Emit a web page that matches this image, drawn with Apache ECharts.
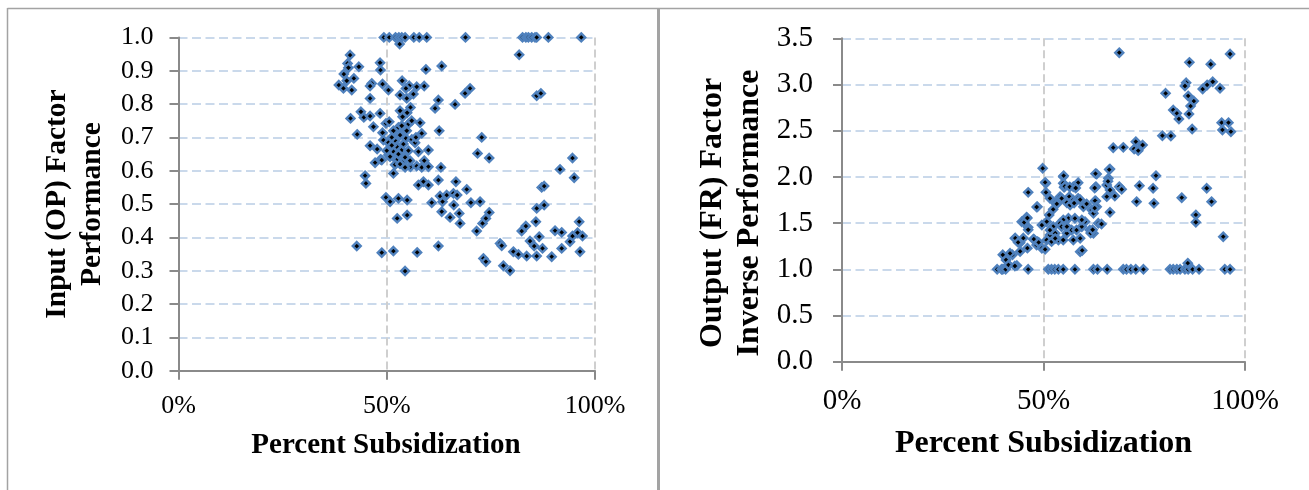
<!DOCTYPE html>
<html>
<head>
<meta charset="utf-8">
<script src="https://cdn.jsdelivr.net/npm/echarts@6/dist/echarts.min.js"></script>
<style>
  html, body { margin: 0; padding: 0; background: #fff; }
  #chart { width: 1309px; height: 490px; }
</style>
</head>
<body>
<div id="chart"></div>
<script>
// Input (OP) factor performance vs. percent subsidization: [subsidization, performance]
const inputPoints = [
  [0.493,1],[0.506,1],[0.521,1],[0.529,1],[0.536,1],[0.544,1],[0.565,1],[0.578,1],[0.596,1],
  [0.689,1],[0.826,1],[0.834,1],[0.840,1],[0.848,1],[0.856,1],[0.860,1],[0.888,1],[0.967,1],
  [0.531,0.98],
  [0.818,0.948],[0.594,0.904],[0.632,0.914],
  [0.412,0.947],[0.406,0.922],[0.408,0.909],[0.433,0.912],[0.397,0.890],[0.404,0.870],[0.421,0.877],
  [0.385,0.857],[0.396,0.847],[0.416,0.842],
  [0.484,0.924],[0.485,0.902],[0.464,0.862],[0.460,0.854],[0.490,0.860],[0.460,0.817],
  [0.504,0.842],[0.537,0.870],[0.554,0.855],[0.572,0.852],[0.590,0.854],[0.546,0.847],
  [0.532,0.827],[0.548,0.817],[0.564,0.830],
  [0.688,0.832],[0.700,0.847],[0.860,0.825],[0.870,0.832],
  [0.624,0.812],[0.616,0.787],[0.664,0.799],
  [0.413,0.757],[0.438,0.777],[0.445,0.760],[0.460,0.764],[0.484,0.772],[0.468,0.732],[0.429,0.709],
  [0.532,0.780],[0.538,0.762],[0.549,0.774],[0.557,0.790],
  [0.498,0.742],[0.506,0.747],[0.490,0.714],[0.516,0.720],[0.528,0.730],[0.552,0.740],[0.580,0.744],
  [0.584,0.712],[0.626,0.720],[0.728,0.700],
  [0.718,0.652],[0.746,0.638],[0.946,0.638],[0.916,0.604],[0.950,0.579],
  [0.460,0.675],[0.477,0.665],[0.472,0.624],[0.485,0.634],[0.504,0.647],
  [0.492,0.692],[0.504,0.684],[0.520,0.690],[0.532,0.707],[0.546,0.697],[0.560,0.694],[0.568,0.684],
  [0.524,0.672],[0.516,0.657],[0.536,0.662],[0.508,0.642],[0.524,0.632],[0.540,0.627],[0.557,0.612],
  [0.572,0.614],[0.584,0.610],[0.576,0.657],[0.600,0.662],[0.516,0.592],[0.630,0.610],[0.488,0.632],
  [0.448,0.585],[0.450,0.562],
  [0.512,0.700],[0.528,0.650],[0.540,0.680],[0.552,0.660],[0.520,0.618],[0.544,0.640],[0.532,0.620],
  [0.548,0.720],[0.560,0.750],[0.500,0.660],[0.536,0.735],[0.512,0.676],[0.556,0.630],[0.570,0.700],
  [0.590,0.630],[0.600,0.612],[0.544,0.610],
  [0.576,0.557],[0.588,0.567],[0.600,0.557],[0.624,0.572],[0.666,0.567],
  [0.498,0.520],[0.508,0.507],[0.528,0.517],[0.549,0.512],
  [0.608,0.504],[0.628,0.524],[0.634,0.507],[0.644,0.527],[0.660,0.532],[0.669,0.527],[0.661,0.497],[0.692,0.544],
  [0.632,0.477],[0.652,0.460],[0.674,0.472],[0.676,0.442],[0.702,0.504],[0.724,0.507],
  [0.525,0.457],[0.549,0.467],
  [0.716,0.419],[0.730,0.442],[0.738,0.457],[0.746,0.475],
  [0.872,0.550],[0.878,0.554],[0.860,0.487],[0.878,0.497],[0.858,0.447],[0.824,0.419],[0.834,0.434],
  [0.428,0.374],[0.488,0.354],[0.516,0.359],[0.573,0.355],[0.624,0.374],[0.544,0.299],
  [0.732,0.337],[0.738,0.327],[0.772,0.382],[0.776,0.375],[0.780,0.315],[0.796,0.300],
  [0.804,0.357],[0.816,0.349],[0.836,0.344],[0.844,0.389],[0.854,0.374],[0.860,0.344],[0.866,0.402],
  [0.874,0.367],[0.896,0.342],[0.920,0.367],[0.904,0.420],[0.920,0.415],[0.940,0.387],[0.946,0.404],
  [0.958,0.414],[0.970,0.404],[0.964,0.357],[0.962,0.447]
];

// Output (FR) factor inverse performance vs. percent subsidization: [subsidization, inverse performance]
const outputPoints = [
  [0.385,1],[0.396,1],[0.399,1],[0.406,1],[0.462,1],[0.512,1],[0.520,1],[0.528,1],[0.537,1],[0.549,1],
  [0.578,1],[0.624,1],[0.634,1],[0.658,1],[0.698,1],[0.706,1],[0.717,1],[0.729,1],[0.748,1],[0.814,1],
  [0.822,1],[0.831,1],[0.839,1],[0.851,1],[0.859,1],[0.870,1],[0.886,1],[0.950,1],[0.963,1],
  [0.413,1.048],[0.434,1.041],[0.858,1.066],[0.399,1.157],[0.423,1.157],
  [0.688,3.344],[0.963,3.330],[0.862,3.240],[0.915,3.219],[0.854,3.019],[0.851,2.984],
  [0.895,2.951],[0.906,2.995],[0.920,3.030],[0.938,2.959],[0.803,2.905],
  [0.859,2.876],[0.873,2.821],[0.865,2.767],[0.861,2.681],[0.822,2.724],[0.831,2.688],[0.836,2.627],
  [0.869,2.518],[0.942,2.587],[0.959,2.587],[0.944,2.508],[0.965,2.489],[0.795,2.446],[0.816,2.443],
  [0.673,2.316],[0.698,2.320],[0.725,2.302],[0.729,2.381],[0.746,2.345],[0.735,2.284],
  [0.498,2.093],[0.665,2.085],[0.632,2.031],[0.779,2.013],
  [0.462,1.833],[0.506,1.931],[0.506,1.833],[0.549,2.002],[0.549,1.931],[0.551,1.887],
  [0.574,1.894],[0.586,1.937],[0.630,1.894],[0.661,1.985],[0.657,1.912],[0.688,1.894],[0.694,1.866],
  [0.738,1.905],[0.772,1.877],[0.905,1.877],[0.843,1.775],[0.731,1.732],[0.774,1.714],[0.917,1.732],
  [0.516,1.768],[0.529,1.721],[0.541,1.786],[0.564,1.786],[0.586,1.761],
  [0.630,1.739],[0.657,1.786],[0.677,1.793],[0.665,1.858],[0.485,1.677],
  [0.878,1.588],[0.878,1.509],[0.946,1.353],[0.665,1.617],[0.591,1.190],
  [0.446,1.515],[0.458,1.563],[0.462,1.455],[0.429,1.335],[0.442,1.288],[0.475,1.325],[0.483,1.263],
  [0.496,1.227],[0.504,1.216],[0.417,1.173],[0.407,1.101],[0.413,1.047],[0.429,1.036],
  [0.485,1.299],[0.496,1.479],[0.508,1.515],[0.514,1.588],[0.524,1.649],[0.533,1.707],[0.545,1.768],
  [0.558,1.721],[0.566,1.696],[0.574,1.750],[0.586,1.768],[0.599,1.677],[0.607,1.707],[0.620,1.642],
  [0.628,1.742],[0.632,1.677],[0.624,1.606],[0.636,1.498],[0.644,1.490],
  [0.516,1.371],[0.529,1.390],[0.537,1.317],[0.549,1.317],[0.558,1.390],[0.570,1.425],[0.582,1.425],
  [0.595,1.461],[0.603,1.515],[0.615,1.425],[0.624,1.390],[0.591,1.335],[0.574,1.317],
  [0.562,1.552],[0.549,1.534],[0.541,1.498],[0.578,1.552],[0.595,1.534],[0.545,1.461],[0.558,1.461],
  [0.524,1.461],[0.516,1.425],[0.508,1.317],[0.520,1.299],[0.529,1.335],
  [0.430,1.338],[0.437,1.291],[0.450,1.338],[0.442,1.193],[0.460,1.229],[0.462,1.428],[0.452,1.508],
  [0.460,1.555],[0.483,1.674],[0.476,1.327],[0.488,1.291],[0.504,1.941],
  [0.550,2.013],[0.553,1.898],[0.565,1.891],[0.580,1.880],[0.591,1.753],[0.576,1.717],
  [0.629,2.035],[0.627,1.880],[0.660,1.952],[0.663,2.079],
  [0.617,1.392],[0.622,1.428],[0.627,1.663],[0.596,1.204]
];

const serifFont = 'Liberation Serif';
const axisGray = '#8a8a8a';

function pct(v) { return Math.round(v * 100) + '%'; }

function xAxisFor(gridIndex, fontSize, margin) {
  return {
    type: 'value', gridIndex, min: 0, max: 1, interval: 0.5,
    axisLine: { show: true, onZero: false, lineStyle: { color: axisGray, width: 2 } },
    axisTick: { show: true, inside: false, length: 9, lineStyle: { color: axisGray, width: 2 } },
    axisLabel: { formatter: pct, fontFamily: serifFont, fontSize, color: '#000', margin },
    splitLine: { show: true, lineStyle: { color: '#cfcfcf', width: 2, type: [8, 4] } }
  };
}

function yAxisFor(gridIndex, max, interval, fontSize, margin) {
  return {
    type: 'value', gridIndex, min: 0, max, interval,
    axisLine: { show: true, onZero: false, lineStyle: { color: axisGray, width: 2 } },
    axisTick: { show: true, inside: false, length: 9, lineStyle: { color: axisGray, width: 2 } },
    axisLabel: { formatter: v => v.toFixed(1), fontFamily: serifFont, fontSize, color: '#000', margin },
    splitLine: { show: true, lineStyle: { color: '#b9cde5', width: 1.5, type: [9, 4.5] } }
  };
}

function titleText(text, x, y, size, rotate) {
  return {
    type: 'text', x, y, rotation: rotate ? Math.PI / 2 : 0, z: 10,
    style: {
      text, fill: '#000', font: 'bold ' + size + 'px "' + serifFont + '"',
      textAlign: 'center', textVerticalAlign: 'middle'
    }
  };
}

function frameLine(x1, y1, x2, y2, w) {
  return { type: 'line', shape: { x1, y1, x2, y2 }, style: { stroke: '#a3a3a3', lineWidth: w }, z: 10 };
}

// diamond markers: blue outline around a dark centre
const marker = {
  symbol: 'diamond', symbolSize: 8,
  itemStyle: { color: '#000', borderColor: '#4f81bd', borderWidth: 2.4, opacity: 1 }
};

const chart = echarts.init(document.getElementById('chart'), null, { renderer: 'canvas' });
chart.setOption({
  animation: false,
  backgroundColor: '#fff',
  grid: [
    { left: 178.5, top: 37.4, width: 416.5, height: 333.3 },
    { left: 842, top: 38.3, width: 403, height: 323.4 }
  ],
  xAxis: [xAxisFor(0, 26, 22), xAxisFor(1, 29, 25)],
  yAxis: [yAxisFor(0, 1, 0.1, 26, 25), yAxisFor(1, 3.5, 0.5, 29, 29)],
  series: [
    Object.assign({ type: 'scatter', xAxisIndex: 0, yAxisIndex: 0, data: inputPoints }, marker),
    Object.assign({ type: 'scatter', xAxisIndex: 1, yAxisIndex: 1, data: outputPoints }, marker)
  ],
  graphic: [
    frameLine(7.5, 8.5, 1309, 8.5, 1.5),
    frameLine(7.5, 8, 7.5, 490, 1.5),
    frameLine(658.5, 8, 658.5, 490, 3),
    titleText('Percent Subsidization', 386, 446, 29, false),
    titleText('Input (OP) Factor', 57, 204, 29.5, true),
    titleText('Performance', 92, 204, 29.5, true),
    titleText('Percent Subsidization', 1043.5, 444, 32, false),
    titleText('Output (FR) Factor', 713, 213, 32, true),
    titleText('Inverse Performance', 750, 213, 32, true)
  ]
});
</script>
</body>
</html>
